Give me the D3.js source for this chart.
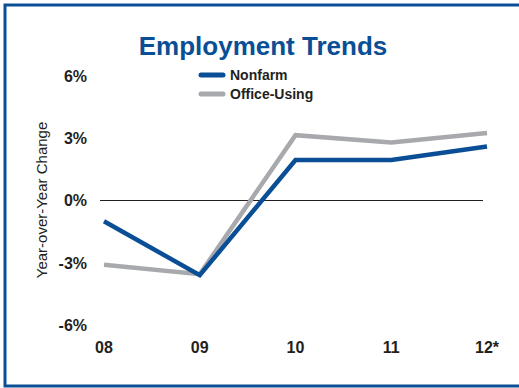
<!DOCTYPE html>
<html>
<head>
<meta charset="UTF-8" />
<script src="https://d3js.org/d3.v7.min.js"></script>
<style>
  body { margin: 0; background: #fff; }
  svg { display: block; font-family: "Liberation Sans", Arial, sans-serif; }
</style>
</head>
<body>
<div id="chart"></div>
<script>
  // Données
  const years = ["08", "09", "10", "11", "12*"];
  const nonfarm = [-1.0, -3.6, 1.95, 1.95, 2.6];
  const officeUsing = [-3.1, -3.55, 3.15, 2.8, 3.25];
  const yTicks = [6, 3, 0, -3, -6];

  const width = 519, height = 388;
  const blue = "#0a4f96", grey = "#a7a9ac";

  const svg = d3.select("#chart").append("svg")
    .attr("width", width).attr("height", height);

  // Cadre (pas de bord droit)
  svg.append("path")
    .attr("d", `M${width},5 H5 V386 H${width}`)
    .attr("fill", "none")
    .attr("stroke", blue)
    .attr("stroke-width", 3);

  const x = d3.scalePoint().domain(years).range([104, 487]);
  const y = d3.scaleLinear().domain([-6, 6]).range([325, 76]);

  // Titre
  svg.append("text")
    .attr("x", 263).attr("y", 55)
    .attr("text-anchor", "middle")
    .attr("font-size", 26).attr("font-weight", "bold")
    .attr("fill", blue)
    .text("Employment Trends");

  // Axe Y
  svg.append("g")
    .selectAll("text")
    .data(yTicks)
    .join("text")
    .attr("x", 87)
    .attr("y", d => y(d))
    .attr("dy", "0.36em")
    .attr("text-anchor", "end")
    .attr("font-size", 16).attr("font-weight", "bold")
    .attr("fill", "#231f20")
    .text(d => d + "%");

  svg.append("text")
    .attr("transform", `translate(47,200) rotate(-90)`)
    .attr("text-anchor", "middle")
    .attr("font-size", 15)
    .attr("fill", "#231f20")
    .text("Year-over-Year Change");

  // Axe X
  svg.append("g")
    .selectAll("text")
    .data(years)
    .join("text")
    .attr("x", d => x(d))
    .attr("y", 353)
    .attr("text-anchor", "middle")
    .attr("font-size", 16).attr("font-weight", "bold")
    .attr("fill", "#231f20")
    .text(d => d);

  // Ligne zéro
  svg.append("line")
    .attr("x1", 100).attr("x2", 483)
    .attr("y1", y(0)).attr("y2", y(0))
    .attr("stroke", "#231f20").attr("stroke-width", 1);

  const line = d3.line()
    .x((d, i) => x(years[i]))
    .y(d => y(d));

  svg.append("path")
    .datum(officeUsing)
    .attr("d", line)
    .attr("fill", "none")
    .attr("stroke", grey).attr("stroke-width", 4.5);

  svg.append("path")
    .datum(nonfarm)
    .attr("d", line)
    .attr("fill", "none")
    .attr("stroke", blue).attr("stroke-width", 4.5);

  // Légende
  const legend = [
    { name: "Nonfarm", color: blue },
    { name: "Office-Using", color: grey }
  ];
  const lg = svg.append("g")
    .selectAll("g")
    .data(legend)
    .join("g")
    .attr("transform", (d, i) => `translate(201,${75 + i * 19})`);
  lg.append("line")
    .attr("x1", 0).attr("x2", 22)
    .attr("stroke", d => d.color)
    .attr("stroke-width", 5)
    .attr("stroke-linecap", "round");
  lg.append("text")
    .attr("x", 29).attr("dy", "0.36em")
    .attr("font-size", 14).attr("font-weight", "bold")
    .attr("fill", "#231f20")
    .text(d => d.name);
</script>
</body>
</html>
